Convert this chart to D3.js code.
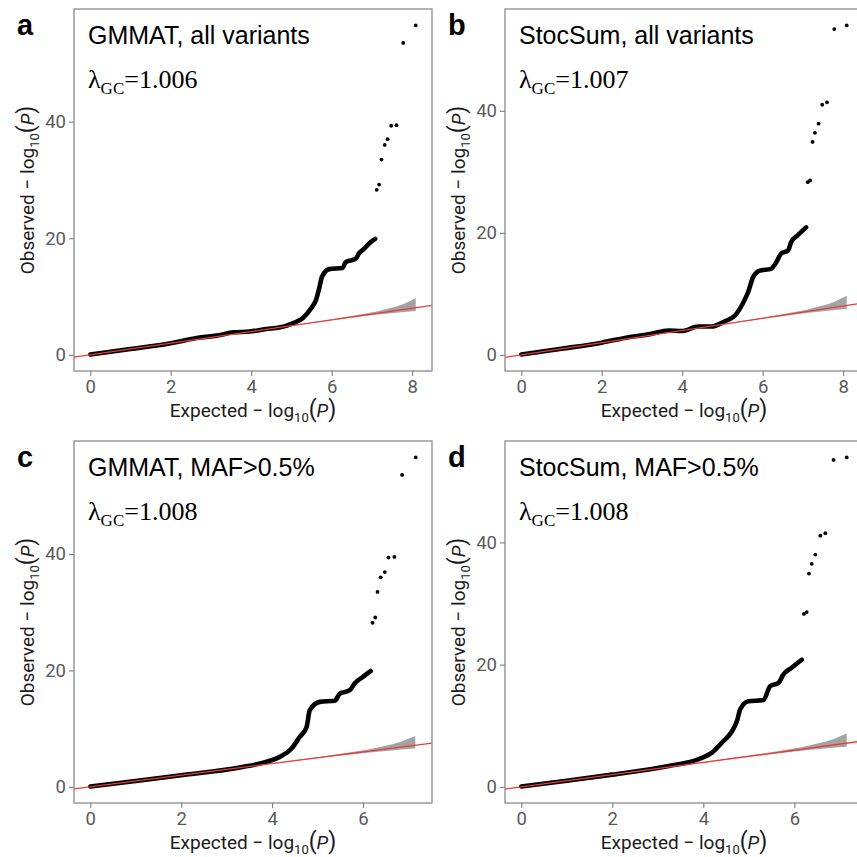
<!DOCTYPE html>
<html>
<head>
<meta charset="utf-8">
<script src="https://d3js.org/d3.v7.min.js"></script>
<style>
  body { margin: 0; background: #fff; }
  svg { display: block; }
  .tick text { font-family: Roboto, sans-serif; font-size: 18.5px; fill: #595959; }
  .tick line { stroke: #7f7f7f; stroke-width: 1.1; }
  .axis-title { font-family: Roboto, sans-serif; font-size: 19px; fill: #1a1a1a; }
  .panel-title { font-family: "Liberation Sans", Arial, sans-serif; font-size: 25px; fill: #000; }
  .lambda { font-family: "Liberation Serif", "Times New Roman", serif; font-size: 26px; fill: #000; }
  .letter { font-family: "Liberation Sans", Arial, sans-serif; font-size: 29px; font-weight: bold; fill: #000; }
</style>
</head>
<body>
<svg width="857" height="857"></svg>
<script>
// panel a: GMMAT, all variants -- dense part of the QQ curve
var gmmatAllExp = [0, 1, 2, 2.72, 3.2, 3.55, 3.96, 4.37, 4.7, 5.03, 5.28, 5.49, 5.61, 5.69, 5.76, 5.94, 6.27, 6.35, 6.6, 6.68, 6.81, 6.93, 7.08];
var gmmatAllObs = [0.05, 1.0, 2.0, 2.96, 3.35, 3.87, 3.99, 4.44, 4.67, 5.41, 6.27, 7.98, 9.4, 11.4, 13.4, 14.7, 14.9, 15.9, 16.5, 17.4, 18.2, 19.1, 19.9];
// top hits drawn as single points
var gmmatAllTopExp = [7.12, 7.18, 7.24, 7.32, 7.39, 7.48, 7.61, 7.78, 8.09];
var gmmatAllTopObs = [28.3, 29.2, 33.5, 36.0, 37.0, 39.3, 39.4, 53.5, 56.5];

// panel b: StocSum, all variants
var stocAllExp = [0, 1, 2, 2.67, 3.2, 3.66, 3.99, 4.4, 4.73, 5.06, 5.31, 5.51, 5.64, 5.76, 5.93, 6.21, 6.34, 6.46, 6.63, 6.71, 6.87, 7.08];
var stocAllObs = [0.05, 1.0, 2.0, 2.89, 3.4, 3.98, 3.9, 4.64, 4.64, 5.51, 6.44, 8.46, 10.3, 12.7, 13.8, 14.1, 15.2, 16.6, 17.1, 18.5, 19.6, 20.9];
var stocAllTopExp = [7.12, 7.18, 7.24, 7.3, 7.39, 7.48, 7.6, 7.78, 8.09];
var stocAllTopObs = [28.3, 28.6, 34.9, 36.4, 37.9, 41.0, 41.4, 53.4, 54.0];

// panel c: GMMAT, MAF>0.5%
var gmmatMafExp = [0, 1, 2, 3.29, 3.88, 4.17, 4.43, 4.61, 4.76, 4.83, 5.05, 5.38, 5.49, 5.71, 5.82, 6.0, 6.17];
var gmmatMafObs = [0.05, 1.0, 2.0, 3.33, 4.3, 5.15, 6.6, 8.6, 10.3, 13.2, 14.6, 14.8, 16.0, 16.6, 17.8, 18.9, 19.9];
var gmmatMafTopExp = [6.21, 6.27, 6.32, 6.39, 6.48, 6.56, 6.69, 6.86, 7.16];
var gmmatMafTopObs = [28.2, 29.1, 33.5, 36.0, 36.9, 39.4, 39.5, 53.6, 56.6];

// panel d: StocSum, MAF>0.5%
var stocMafExp = [0, 1, 2, 3.24, 3.9, 4.19, 4.41, 4.63, 4.74, 4.81, 4.99, 5.32, 5.47, 5.65, 5.76, 5.94, 6.16];
var stocMafObs = [0.05, 1.0, 2.0, 3.43, 4.52, 5.6, 7.25, 9.1, 10.8, 12.7, 14.0, 14.2, 16.5, 17.0, 18.4, 19.5, 20.8];
var stocMafTopExp = [6.21, 6.27, 6.32, 6.38, 6.46, 6.57, 6.68, 6.86, 7.15];
var stocMafTopObs = [28.3, 28.6, 34.9, 36.5, 38.0, 41.1, 41.5, 53.5, 53.9];

// 95% band under the null
var bandAllExp = [0, 5.09, 6.09, 7.09, 7.61, 7.79, 8.09];
var bandAllUp = [0.01, 5.12, 6.18, 7.41, 8.3, 8.71, 9.7];
var bandAllLo = [0, 5.06, 6.01, 6.86, 7.23, 7.34, 7.52];
var bandMafExp = [0, 4.15, 5.15, 6.15, 6.67, 6.85, 7.15];
var bandMafUp = [0.01, 4.18, 5.24, 6.47, 7.36, 7.77, 8.75];
var bandMafLo = [0, 4.12, 5.07, 5.92, 6.29, 6.4, 6.58];

var panelLetters = ["a", "b", "c", "d"];
var panelTitles = ["GMMAT, all variants", "StocSum, all variants", "GMMAT, MAF>0.5%", "StocSum, MAF>0.5%"];
var lambdaValues = ["1.006", "1.007", "1.008", "1.008"];
var xTicksAll = [0, 2, 4, 6, 8];
var xTicksMaf = [0, 2, 4, 6];
var yTicks = [0, 20, 40];

var panels = [
  {exp: gmmatAllExp, obs: gmmatAllObs, topExp: gmmatAllTopExp, topObs: gmmatAllTopObs,
   bExp: bandAllExp, bUp: bandAllUp, bLo: bandAllLo, xTicks: xTicksAll},
  {exp: stocAllExp, obs: stocAllObs, topExp: stocAllTopExp, topObs: stocAllTopObs,
   bExp: bandAllExp, bUp: bandAllUp, bLo: bandAllLo, xTicks: xTicksAll},
  {exp: gmmatMafExp, obs: gmmatMafObs, topExp: gmmatMafTopExp, topObs: gmmatMafTopObs,
   bExp: bandMafExp, bUp: bandMafUp, bLo: bandMafLo, xTicks: xTicksMaf},
  {exp: stocMafExp, obs: stocMafObs, topExp: stocMafTopExp, topObs: stocMafTopObs,
   bExp: bandMafExp, bUp: bandMafUp, bLo: bandMafLo, xTicks: xTicksMaf}
];

const svg = d3.select('svg');
const colX = [74, 505];
const rowY = [9, 441];
const width = 358;
const height = 362;

// ggplot style 5% expansion around the data range
function expand(lo, hi) {
  const pad = (hi - lo) * 0.05;
  return [lo - pad, hi + pad];
}

function addLogTitle(text, prefix) {
  text.append('tspan').text(prefix + ' \u2212 log');
  text.append('tspan').attr('font-size', '13px').attr('dy', 5).text('10');
  text.append('tspan').attr('dy', -5).attr('font-size', '23px').text('(');
  text.append('tspan').attr('font-style', 'italic').text('P');
  text.append('tspan').attr('font-size', '23px').text(')');
}

panels.forEach(function (p, i) {
  const x0 = colX[i % 2];
  const y0 = rowY[Math.floor(i / 2)];
  const allExp = p.exp.concat(p.topExp);
  const allObs = p.obs.concat(p.topObs);

  const xScale = d3.scaleLinear()
    .domain(expand(d3.min(allExp), d3.max(allExp)))
    .range([0, width]);
  const yScale = d3.scaleLinear()
    .domain(expand(d3.min(allObs), d3.max(allObs)))
    .range([height, 0]);

  const chart = svg.append('g')
    .attr('transform', `translate(${x0}, ${y0})`);

  chart.append('clipPath')
    .attr('id', 'clip' + i)
    .append('rect')
    .attr('width', width)
    .attr('height', height);

  const plot = chart.append('g').attr('clip-path', `url(#clip${i})`);

  // null band
  const band = p.bExp.map((e, k) => ({e: e, up: p.bUp[k], lo: p.bLo[k]}));
  plot.append('path')
    .datum(band)
    .attr('fill', '#a3a3a3')
    .attr('d', d3.area()
      .x(d => xScale(d.e))
      .y0(d => yScale(d.lo))
      .y1(d => yScale(d.up)));

  // dense observed points as a thick trace
  const pts = p.exp.map((e, k) => [e, p.obs[k]]);
  plot.append('path')
    .datum(pts)
    .attr('fill', 'none')
    .attr('stroke', '#000')
    .attr('stroke-width', 4.6)
    .attr('stroke-linejoin', 'round')
    .attr('stroke-linecap', 'round')
    .attr('d', d3.line()
      .x(d => xScale(d[0]))
      .y(d => yScale(d[1]))
      .curve(d3.curveMonotoneX));

  plot.selectAll('circle.top')
    .data(p.topExp)
    .enter()
    .append('circle')
    .attr('class', 'top')
    .attr('cx', d => xScale(d))
    .attr('cy', (d, k) => yScale(p.topObs[k]))
    .attr('r', 1.9)
    .attr('fill', '#000');

  // y = x reference
  const dom = xScale.domain();
  plot.append('line')
    .attr('x1', xScale(dom[0]))
    .attr('y1', yScale(dom[0]))
    .attr('x2', xScale(dom[1]))
    .attr('y2', yScale(dom[1]))
    .attr('stroke', '#ee3a33')
    .attr('stroke-width', 1.3);

  chart.append('rect')
    .attr('width', width)
    .attr('height', height)
    .attr('fill', 'none')
    .attr('stroke', '#8a8a8a')
    .attr('stroke-width', 1.3);

  const xAxis = chart.append('g')
    .attr('transform', `translate(0, ${height})`)
    .call(d3.axisBottom(xScale).tickValues(p.xTicks).tickSize(5).tickPadding(4).tickFormat(d3.format('d')));
  xAxis.select('.domain').remove();

  const yAxis = chart.append('g')
    .call(d3.axisLeft(yScale).tickValues(yTicks).tickSize(5).tickPadding(3).tickFormat(d3.format('d')));
  yAxis.select('.domain').remove();

  const xt = chart.append('text')
    .attr('class', 'axis-title')
    .attr('x', width / 2)
    .attr('y', height + 46)
    .attr('text-anchor', 'middle');
  addLogTitle(xt, 'Expected');

  const yt = chart.append('text')
    .attr('class', 'axis-title')
    .attr('transform', `translate(-40, ${height / 2}) rotate(-90)`)
    .attr('text-anchor', 'middle');
  addLogTitle(yt, 'Observed');

  chart.append('text')
    .attr('class', 'panel-title')
    .attr('x', 14)
    .attr('y', 35)
    .text(panelTitles[i]);

  const lam = chart.append('text')
    .attr('class', 'lambda')
    .attr('x', 14)
    .attr('y', 79);
  lam.append('tspan').text('\u03bb');
  lam.append('tspan').attr('font-size', '17px').attr('dy', 6).text('GC');
  lam.append('tspan').attr('dy', -6).text('=' + lambdaValues[i]);

  svg.append('text')
    .attr('class', 'letter')
    .attr('x', x0 - 57)
    .attr('y', y0 + 26)
    .text(panelLetters[i]);
});
</script>
</body>
</html>
